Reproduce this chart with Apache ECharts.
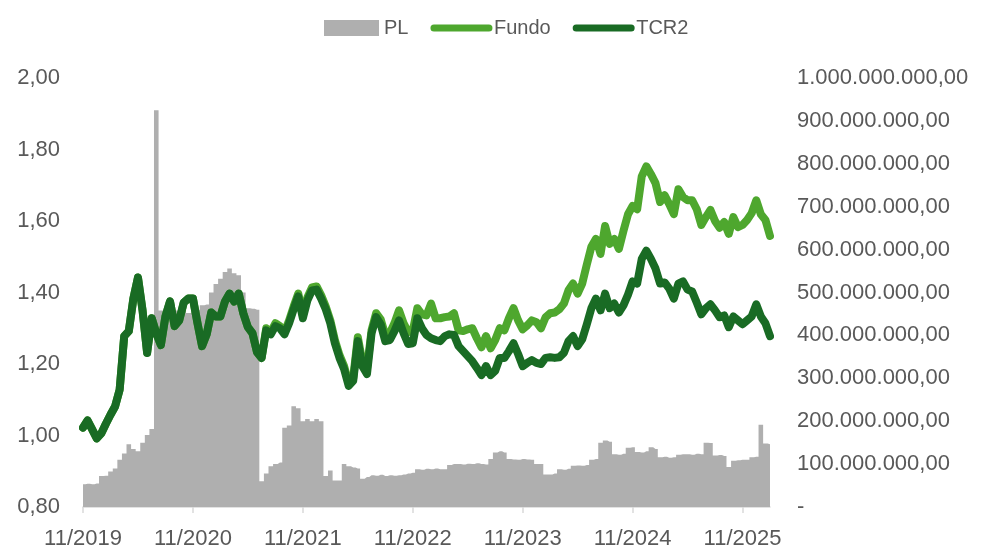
<!DOCTYPE html>
<html>
<head>
<meta charset="utf-8">
<script src="https://cdn.jsdelivr.net/npm/echarts@6/dist/echarts.min.js"></script>
<style>
  html, body { margin: 0; padding: 0; background: #fff; }
  #chart { width: 983px; height: 550px; }
</style>
</head>
<body>
<div id="chart"></div>
<script>
// semi-monthly dates, 1st and 16th, from 11/2019 to 02/2026
const dates = [];
for (let y = 2019, m = 11; dates.length < 151; ) {
  const mm = String(m).padStart(2, '0');
  dates.push(y + '-' + mm + '-01');
  if (dates.length < 151) dates.push(y + '-' + mm + '-16');
  m++;
  if (m > 12) { m = 1; y++; }
}

// PL in millions of R$ (right axis)
const pl = [
  53, 54, 53, 55, 72, 73, 83, 90, 110, 125,
  146, 135, 130, 150, 168, 182, 925, 458, 455, 452,
  458, 455, 460, 452, 456, 460, 470, 472, 500, 520,
  532, 548, 556, 545, 540, 500, 463, 462, 460, 60,
  78, 95, 100, 104, 185, 190, 235, 230, 200, 205,
  200, 205, 200, 72, 85, 62, 62, 100, 95, 92,
  90, 66, 70, 74, 73, 75, 72, 74, 73, 74,
  76, 78, 80, 88, 87, 89, 88, 90, 88, 88,
  98, 100, 100, 99, 101, 100, 102, 100, 99, 112,
  127, 130, 127, 112, 111, 110, 112, 111, 110, 100,
  100, 76, 76, 78, 88, 87, 89, 96, 97, 96,
  98, 110, 112, 150, 155, 152, 123, 122, 124, 138,
  139, 128, 127, 130, 139, 135, 116, 117, 115, 116,
  122, 123, 123, 122, 124, 123, 150, 149, 120, 121,
  119, 93, 108, 109, 110, 110, 116, 117, 192, 148,
  146
];

const fundo = [
  1.022, 1.042, 1.017, 0.992, 1.006, 1.033, 1.058, 1.081, 1.128, 1.278,
  1.292, 1.383, 1.442, 1.350, 1.231, 1.328, 1.286, 1.253, 1.333, 1.375,
  1.306, 1.322, 1.372, 1.383, 1.383, 1.314, 1.250, 1.283, 1.344, 1.333,
  1.333, 1.375, 1.397, 1.375, 1.397, 1.342, 1.303, 1.286, 1.233, 1.217,
  1.300, 1.289, 1.314, 1.306, 1.289, 1.322, 1.361, 1.397, 1.336, 1.386,
  1.414, 1.417, 1.392, 1.361, 1.322, 1.267, 1.225, 1.194, 1.147, 1.161,
  1.275, 1.206, 1.186, 1.294, 1.342, 1.325, 1.281, 1.286, 1.314, 1.350,
  1.314, 1.289, 1.292, 1.356, 1.339, 1.336, 1.369, 1.328, 1.328, 1.331,
  1.333, 1.342, 1.294, 1.292, 1.297, 1.300, 1.272, 1.247, 1.278, 1.244,
  1.267, 1.300, 1.294, 1.328, 1.356, 1.322, 1.297, 1.308, 1.322, 1.317,
  1.300, 1.331, 1.342, 1.344, 1.353, 1.369, 1.406, 1.425, 1.397, 1.425,
  1.478, 1.528, 1.550, 1.508, 1.586, 1.536, 1.550, 1.522, 1.572, 1.619,
  1.642, 1.633, 1.725, 1.753, 1.731, 1.706, 1.653, 1.672, 1.647, 1.619,
  1.689, 1.667, 1.658, 1.658, 1.633, 1.589, 1.611, 1.631, 1.600, 1.581,
  1.597, 1.564, 1.611, 1.583, 1.589, 1.603, 1.622, 1.658, 1.619, 1.603,
  1.558
];

const tcr2 = [
  1.022, 1.042, 1.017, 0.992, 1.006, 1.033, 1.058, 1.081, 1.128, 1.278,
  1.292, 1.383, 1.442, 1.350, 1.231, 1.328, 1.286, 1.253, 1.333, 1.375,
  1.306, 1.322, 1.372, 1.383, 1.383, 1.314, 1.250, 1.283, 1.344, 1.333,
  1.333, 1.375, 1.397, 1.375, 1.397, 1.342, 1.303, 1.286, 1.233, 1.217,
  1.294, 1.283, 1.306, 1.300, 1.283, 1.314, 1.353, 1.389, 1.328, 1.378,
  1.406, 1.408, 1.383, 1.353, 1.314, 1.258, 1.217, 1.186, 1.139, 1.153,
  1.264, 1.194, 1.172, 1.286, 1.331, 1.311, 1.264, 1.267, 1.292, 1.322,
  1.286, 1.256, 1.258, 1.328, 1.300, 1.281, 1.272, 1.267, 1.264, 1.278,
  1.283, 1.281, 1.250, 1.236, 1.222, 1.208, 1.189, 1.169, 1.194, 1.169,
  1.181, 1.217, 1.217, 1.236, 1.258, 1.228, 1.194, 1.203, 1.211, 1.203,
  1.200, 1.217, 1.219, 1.217, 1.219, 1.231, 1.264, 1.278, 1.250, 1.269,
  1.311, 1.356, 1.383, 1.350, 1.397, 1.356, 1.369, 1.344, 1.364, 1.394,
  1.431, 1.425, 1.494, 1.517, 1.494, 1.467, 1.425, 1.428, 1.411, 1.383,
  1.425, 1.431, 1.408, 1.403, 1.372, 1.339, 1.356, 1.367, 1.350, 1.331,
  1.336, 1.303, 1.333, 1.322, 1.311, 1.322, 1.333, 1.367, 1.333, 1.314,
  1.278
];

const textColor = '#595959';
const fontFamily = 'Liberation Sans';

const isYearTick = (idx, val) => val.slice(5) === '11-01';

const brl = (v) => {
  if (v === 0) return '-';
  const s = Math.round(v * 1e6).toString().replace(/\B(?=(\d{3})+(?!\d))/g, '.');
  return s + ',00';
};

const chart = echarts.init(document.getElementById('chart'));
chart.setOption({
  animation: false,
  textStyle: { fontFamily: fontFamily },
  legend: {
    top: 13,
    left: 319,
    itemWidth: 55,
    itemHeight: 16,
    itemGap: 22,
    textStyle: { color: textColor, fontSize: 20, fontFamily: fontFamily },
    lineStyle: { width: 7, cap: 'round' },
    data: [
      { name: 'PL', icon: 'rect' },
      { name: 'Fundo', itemStyle: { opacity: 0 } },
      { name: 'TCR2', itemStyle: { opacity: 0 } }
    ]
  },
  grid: {
    left: 83,
    right: 213,
    top: 78,
    bottom: 40
  },
  xAxis: {
    type: 'category',
    data: dates,
    boundaryGap: false,
    axisLine: { lineStyle: { color: '#d9d9d9', width: 1.5 } },
    axisTick: {
      interval: isYearTick,
      length: 6,
      lineStyle: { color: '#d9d9d9', width: 1.5 }
    },
    axisLabel: {
      interval: isYearTick,
      margin: 21,
      color: textColor,
      fontSize: 22,
      formatter: (v) => v.slice(5, 7) + '/' + v.slice(0, 4)
    },
    splitLine: { show: false }
  },
  yAxis: [
    {
      type: 'value',
      min: 0.8,
      max: 2.0,
      interval: 0.2,
      axisLine: { show: false },
      axisTick: { show: false },
      splitLine: { show: false },
      axisLabel: {
        margin: 23,
        color: textColor,
        fontSize: 22,
        formatter: (v) => v.toFixed(2).replace('.', ',')
      }
    },
    {
      type: 'value',
      min: 0,
      max: 1000,
      interval: 100,
      position: 'right',
      axisLine: { show: false },
      axisTick: { show: false },
      splitLine: { show: false },
      axisLabel: {
        margin: 27,
        color: textColor,
        fontSize: 22,
        formatter: brl
      }
    }
  ],
  series: [
    {
      name: 'PL',
      type: 'line',
      yAxisIndex: 1,
      data: pl,
      step: 'middle',
      symbol: 'none',
      itemStyle: { color: '#afafaf' },
      lineStyle: { width: 0 },
      areaStyle: { color: '#afafaf', opacity: 1 },
      z: 1
    },
    {
      name: 'Fundo',
      type: 'line',
      data: fundo,
      symbol: 'none',
      itemStyle: { color: '#4ea72e' },
      lineStyle: { color: '#4ea72e', width: 8, cap: 'round', join: 'round' },
      z: 2
    },
    {
      name: 'TCR2',
      type: 'line',
      data: tcr2,
      symbol: 'none',
      itemStyle: { color: '#196b24' },
      lineStyle: { color: '#196b24', width: 8, cap: 'round', join: 'round' },
      z: 3
    }
  ]
});
</script>
</body>
</html>
